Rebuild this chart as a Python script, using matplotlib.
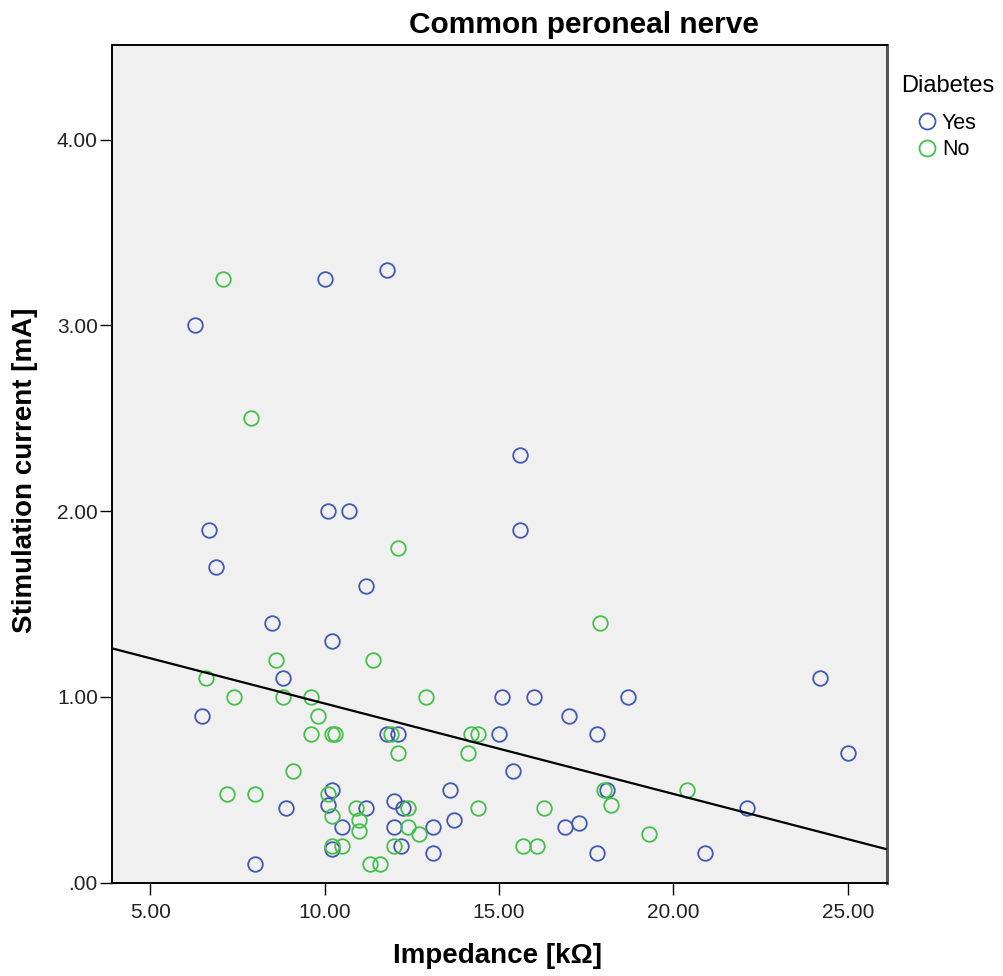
import matplotlib
matplotlib.use("Agg")
import matplotlib.pyplot as plt
import numpy as np

plt.rcParams['font.family'] = ['Liberation Sans', 'DejaVu Sans']

# ---- data ----
yes_impedance = [10.0, 11.8, 6.3, 15.6, 10.1, 10.7, 6.7, 15.6, 6.9, 11.2, 8.5, 10.2,
                 8.8, 24.2, 15.1, 16.0, 18.7, 6.5, 17.0, 11.8, 12.1, 15.0, 17.8, 25.0,
                 15.4, 10.2, 13.6, 18.1, 8.9, 10.1, 11.2, 12.0, 12.25, 22.1, 13.7, 10.5,
                 12.0, 13.1, 16.9, 17.3, 10.2, 12.2, 13.1, 17.8, 20.9, 8.0]
yes_current = [3.25, 3.30, 3.00, 2.30, 2.00, 2.00, 1.90, 1.90, 1.70, 1.60, 1.40, 1.30,
               1.10, 1.10, 1.00, 1.00, 1.00, 0.90, 0.90, 0.80, 0.80, 0.80, 0.80, 0.70,
               0.60, 0.50, 0.50, 0.50, 0.40, 0.42, 0.40, 0.44, 0.40, 0.40, 0.34, 0.30,
               0.30, 0.30, 0.30, 0.32, 0.18, 0.20, 0.16, 0.16, 0.16, 0.10]

no_impedance = [7.1, 7.9, 12.1, 17.9, 8.6, 11.4, 6.6, 7.4, 8.8, 9.6, 12.9, 9.8,
                9.6, 10.2, 10.3, 11.9, 14.2, 14.4, 12.1, 14.1, 9.1, 7.2, 8.0, 10.1,
                18.0, 20.4, 10.9, 12.4, 14.4, 16.3, 18.2, 10.2, 11.0, 11.0, 12.4, 12.7,
                19.3, 10.2, 10.5, 12.0, 15.7, 16.1, 11.3, 11.6]
no_current = [3.25, 2.50, 1.80, 1.40, 1.20, 1.20, 1.10, 1.00, 1.00, 1.00, 1.00, 0.90,
              0.80, 0.80, 0.80, 0.80, 0.80, 0.80, 0.70, 0.70, 0.60, 0.48, 0.48, 0.48,
              0.50, 0.50, 0.40, 0.40, 0.40, 0.40, 0.42, 0.36, 0.34, 0.28, 0.30, 0.26,
              0.26, 0.20, 0.20, 0.20, 0.20, 0.20, 0.10, 0.10]

fit_intercept = 1.452
fit_slope = -0.0487

x_ticks = [5, 10, 15, 20, 25]
y_ticks = [0, 1, 2, 3, 4]
x_tick_labels = ["5.00", "10.00", "15.00", "20.00", "25.00"]
y_tick_labels = [".00", "1.00", "2.00", "3.00", "4.00"]

title = "Common peroneal nerve"
x_label = "Impedance [k\u03A9]"
y_label = "Stimulation current [mA]"
legend_title = "Diabetes"
group_labels = ["Yes", "No"]

# ---- plot ----
BLUE = "#4358B0"
GREEN = "#45C04A"
W, H = 1004, 976

fig = plt.figure(figsize=(W / 100, H / 100), dpi=100)
ax = fig.add_axes([0.1113, 0.0956, 0.772, 0.8583])
ax.set_facecolor("#F0F0F0")

xmin, xmax = 3.9, 26.12
ymin, ymax = 0.0, 4.51
ax.set_xlim(xmin, xmax)
ax.set_ylim(ymin, ymax)

ms = 10.5
ax.plot(yes_impedance, yes_current, linestyle="none", marker="o", markersize=ms,
        markerfacecolor="none", markeredgecolor=BLUE, markeredgewidth=1.3,
        label=group_labels[0], zorder=3)
ax.plot(no_impedance, no_current, linestyle="none", marker="o", markersize=ms,
        markerfacecolor="none", markeredgecolor=GREEN, markeredgewidth=1.3,
        label=group_labels[1], zorder=3)

xl = np.array([xmin, xmax])
ax.plot(xl, fit_intercept + fit_slope * xl, color="black", linewidth=1.6, zorder=4)

ax.set_xticks(x_ticks)
ax.set_xticklabels(x_tick_labels)
ax.set_yticks(y_ticks)
ax.set_yticklabels(y_tick_labels)
ax.tick_params(axis="both", direction="out", length=8.5, width=1.0, labelsize=15,
               color="black", labelcolor="#222222")
ax.tick_params(axis="x", pad=6)
ax.tick_params(axis="y", pad=1.5)

for side in ["left", "bottom", "top"]:
    ax.spines[side].set_linewidth(1.4)
    ax.spines[side].set_color("black")
ax.spines["right"].set_linewidth(2.2)
ax.spines["right"].set_color("#555555")

fig.text(583.5 / W, 1 - 33 / H, title, fontsize=21.5, fontweight="bold",
         ha="center", va="baseline")
fig.text(498 / W, 1 - 963 / H, x_label, fontsize=20, fontweight="bold",
         ha="center", va="baseline")
fig.text(25 / W, 1 - 470 / H, y_label, fontsize=20, fontweight="bold",
         ha="center", va="center", rotation=90)

fig.text(901 / W, 1 - 92 / H, legend_title, fontsize=17, ha="left", va="baseline")
leg = ax.legend(loc="upper left", bbox_to_anchor=(916 / W, 1 - 113 / H),
                bbox_transform=fig.transFigure,
                frameon=False, fontsize=15.5, handletextpad=0.2,
                borderaxespad=0.0, borderpad=0.0, labelspacing=0.25,
                handlelength=1.0)
for h in leg.legend_handles:
    h.set_markersize(11.5)

fig.savefig("out.png", dpi=100)
